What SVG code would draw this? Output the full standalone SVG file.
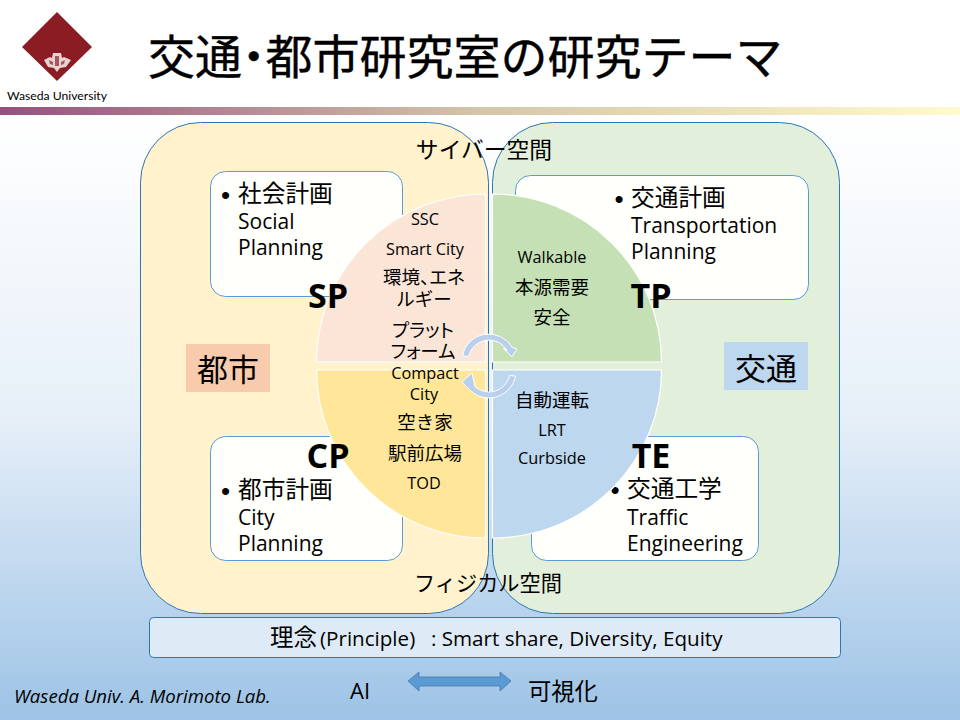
<svg xmlns="http://www.w3.org/2000/svg" width="960" height="720" viewBox="0 0 960 720">
<defs>
<linearGradient id="bar" x1="0" x2="1" y1="0" y2="0"><stop offset="0" stop-color="#964f7e"/><stop offset="0.5" stop-color="#d5c5a9"/><stop offset="1" stop-color="#fffbcc"/></linearGradient>
<linearGradient id="bg" x1="0" x2="0" y1="0" y2="1"><stop offset="0" stop-color="#ffffff"/><stop offset="0.5" stop-color="#e6eff8"/><stop offset="1" stop-color="#9dc3e6"/></linearGradient>
</defs>
<style>
text{font-family:"Noto Sans CJK JP","Noto Sans",sans-serif;fill:#000}
.o{font-family:"Open Sans","Noto Sans CJK JP",sans-serif;}
.s{font-size:16.300px;text-anchor:middle;font-family:"Open Sans","Noto Sans CJK JP",sans-serif;}
.j{font-size:18.500px;text-anchor:middle;font-family:"Noto Sans CJK JP",sans-serif;}
.p{font-feature-settings:"palt"}
.b{font-size:21px;font-family:"Open Sans","Noto Sans CJK JP",sans-serif;}
.h{font-size:23.700px;font-family:"Noto Sans CJK JP",sans-serif;}
.d{font-size:26px;font-family:"Liberation Sans",sans-serif;}
.k{font-size:34px;font-weight:700;font-family:"Open Sans",sans-serif;text-anchor:middle}
.big{stroke:#2e75b6;stroke-width:1}
.box{fill:#fffffb;stroke:#5b9bd5;stroke-width:1}
.q{stroke:#fff;stroke-width:1.2}
.arc{fill:#b8d0ec;stroke:#fff;stroke-width:1}
</style>
<rect width="960" height="720" fill="#fff"/>
<rect y="115" width="960" height="605" fill="url(#bg)"/>
<rect y="107" width="960" height="8" fill="url(#bar)"/>
<g id="logo">
<polygon points="57,12 92,47 57,81 22,47" fill="#8c1c23"/>
<path d="M44,60 L50,57 L52,58 L53,53 H61 L62,58 L64,57 L71,60 L66,67 L60,68 L57,72 L54,68 L48,67 Z" fill="#e6d2d0"/>
<path d="M55,56 H59 V66 H55 Z M49,60 L53,62 V65 L50,64 Z M65,60 L61,62 V65 L64,64 Z" fill="#a8565a"/>
<text x="7" y="100" font-size="12.200" style="font-family:Lato,sans-serif" fill="#444">Waseda University</text>
</g>
<text id="title" x="148" y="74" font-size="47" stroke="#000" stroke-width="0.4">交通<tspan font-weight="900">･</tspan>都市研究室の研究テーマ</text>
<g id="urban-panel"><rect x="140.500" y="122.500" width="348" height="491" rx="60" class="big" fill="#fff2cc"/></g>
<g id="transport-panel"><rect x="492.500" y="122.500" width="347" height="491" rx="60" class="big" fill="#e2efda"/></g>
<g id="social"><rect x="210.500" y="171.500" width="192" height="125" rx="15" class="box"/>
<text x="221" y="204" class="d">•</text><text x="238" y="202" class="h">社会計画</text><text x="238" y="229" class="b">Social</text><text x="238" y="255" class="b">Planning</text></g>
<g id="transportation"><rect x="515.500" y="175.500" width="293" height="124" rx="15" class="box"/>
<text x="614.500" y="208" class="d">•</text><text x="631" y="206" class="h">交通計画</text><text x="631" y="233" class="b">Transportation</text><text x="631" y="259" class="b">Planning</text></g>
<g id="city"><rect x="210.500" y="436.500" width="192" height="124" rx="15" class="box"/>
<text x="221" y="500" class="d">•</text><text x="238" y="498" class="h">都市計画</text><text x="238" y="525" class="b">City</text><text x="238" y="551" class="b">Planning</text></g>
<g id="traffic"><rect x="531.500" y="436.500" width="227" height="124" rx="15" class="box"/>
<text x="610.500" y="499" class="d">•</text><text x="627" y="497" class="h">交通工学</text><text x="627" y="525" class="b">Traffic</text><text x="627" y="551" class="b">Engineering</text></g>
<g id="sp"><path d="M485.500,194 V362 H316.500 A169,168 0 0 1 485.500,194 Z" class="q" fill="#fbe5d6"/></g>
<g id="tp"><path d="M492.500,194 V362 H661.500 A169,168 0 0 0 492.500,194 Z" class="q" fill="#c5e0b4"/></g>
<g id="cp"><path d="M485.500,538 V370 H316.500 A169,168 0 0 0 485.500,538 Z" class="q" fill="#ffe699"/></g>
<g id="te"><path d="M492.500,538 V370 H661.500 A169,168 0 0 1 492.500,538 Z" class="q" fill="#bdd7ee"/></g>
<g id="connectors">
<path d="M462.500,356 A27,27 0 0 1 512.400,347.500 L517,349 L512,357 L503,348 L507.200,350.500 A21,21 0 0 0 468.500,356.500 Z" class="arc"/>
<path d="M515.500,376 A27,27 0 0 1 473.500,393 L470,390 L462,382 L472,373 L475,386.600 A21,21 0 0 0 509.500,375.500 Z" class="arc"/>
</g>
<text class="k" x="328" y="308">SP</text><text class="k" x="651" y="308">TP</text><text class="k" x="328" y="468">CP</text><text class="k" x="651" y="468">TE</text>
<g id="sp-labels"><text class="s" x="425" y="225">SSC</text><text class="s" x="425" y="255">Smart City</text><text class="j p" x="424" y="284">環境、エネ</text><text class="j" x="424" y="306">ルギー</text><text class="j p" x="423" y="337">プラット</text><text class="j p" x="423" y="358">フォーム</text></g>
<g id="cp-labels"><text class="s" x="425" y="379">Compact</text><text class="s" x="424" y="400">City</text><text class="j" x="425" y="429">空き家</text><text class="j" x="425" y="460">駅前広場</text><text class="s" x="424" y="489">TOD</text></g>
<g id="tp-labels"><text class="s" x="552" y="263">Walkable</text><text class="j" x="552" y="294">本源需要</text><text class="j" x="552" y="324">安全</text></g>
<g id="te-labels"><text class="j" x="552" y="407">自動運転</text><text class="s" x="552" y="436">LRT</text><text class="s" x="552" y="464">Curbside</text></g>
<text x="484" y="158" font-size="22.800" text-anchor="middle">サイバー空間</text>
<text x="488" y="591" font-size="21.200" text-anchor="middle">フィジカル空間</text>
<g id="toshi"><rect x="186" y="344" width="84" height="48" fill="#f8cbad"/><text x="228" y="381" font-size="31" text-anchor="middle">都市</text></g>
<g id="kotsu"><rect x="724" y="342" width="84" height="48" fill="#bdd7ee"/><text x="766" y="380" font-size="31" text-anchor="middle">交通</text></g>
<g id="principle"><rect x="149.500" y="617.500" width="691" height="40" rx="4" fill="#deebf7" stroke="#2e75b6"/><text y="646" font-size="20.600" class="o"><tspan x="270" font-size="23.500" style="font-family:'Noto Sans CJK JP',sans-serif">理念</tspan><tspan x="320">(Principle)</tspan><tspan x="431">: Smart share, Diversity, Equity</tspan></text></g>
<polygon id="double-arrow" points="408,681 419,672 419,677 500,677 500,672 511,681 500,691 500,686 419,686 419,691" fill="#5b9bd5" stroke="#41719c" stroke-width="0.7"/>
<text x="14" y="703" font-size="18.600" font-style="italic" class="o">Waseda Univ. A. Morimoto Lab.</text>
<text x="350" y="699" font-size="22" class="o">AI</text>
<text x="528" y="700" font-size="23.300">可視化</text>
</svg>
